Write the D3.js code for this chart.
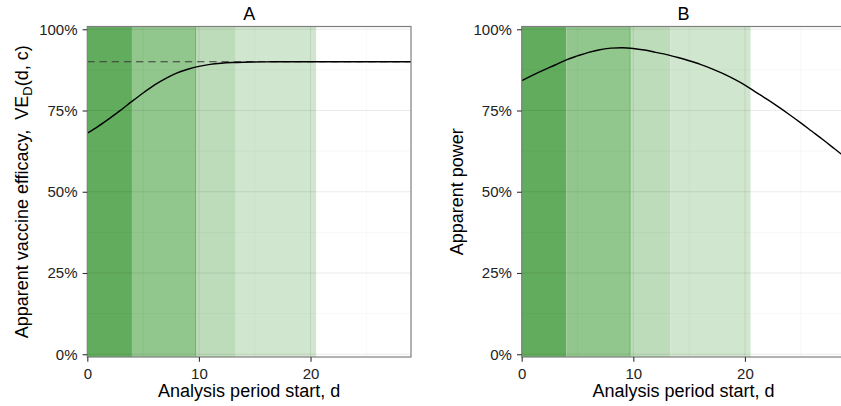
<!DOCTYPE html>
<html>
<head>
<meta charset="utf-8">
<script src="https://cdn.jsdelivr.net/npm/d3@7"></script>
<style>
  body { margin: 0; background: #fff; }
  svg { display: block; }
  text { font-family: "Liberation Sans", Arial, Helvetica, sans-serif; }
</style>
</head>
<body>
<svg id="chart" width="841" height="406"></svg>
<script>
// Analysis period start, d (days)
const days = [0, 1, 2, 3, 4, 5, 6, 7, 8, 9, 10, 11, 12, 13, 14, 15, 16, 17, 18, 19,
              20, 21, 22, 23, 24, 25, 26, 27, 28, 29];

// Panel A: apparent vaccine efficacy VE_D(d, c)
const efficacy = [0.680, 0.702, 0.726, 0.751, 0.778, 0.804, 0.828, 0.848, 0.865, 0.877,
                  0.886, 0.892, 0.8955, 0.8975, 0.8987, 0.8994, 0.8997, 0.8999, 0.900, 0.900,
                  0.900, 0.900, 0.900, 0.900, 0.900, 0.900, 0.900, 0.900, 0.900, 0.900];

// Panel B: apparent power
const power = [0.842, 0.859, 0.875, 0.890, 0.906, 0.918, 0.929, 0.937, 0.942, 0.943,
               0.941, 0.936, 0.929, 0.922, 0.913, 0.903, 0.892, 0.879, 0.864, 0.847,
               0.828, 0.806, 0.784, 0.761, 0.737, 0.712, 0.686, 0.660, 0.633, 0.606];

// True efficacy (dashed reference in panel A)
const trueEfficacy = 0.90;

// Shaded period boundaries (days)
const bandEdges = [0, 4, 9.7, 13.3, 20.5];

// Axis ticks
const xTicks = [0, 10, 20];
const xMinor = [5, 15, 25];
const yTicks = [0, 0.25, 0.5, 0.75, 1];
const yMinor = [0.125, 0.375, 0.625, 0.875];

const panelTitles = ["A", "B"];
const xTitle = "Analysis period start, d";

// ---- styling ----
const bandFills = ["#62AC5E", "#91C68C", "#BDDCBA", "#D1E6CF"];
const layout = { top: 26.5, bottom: 357, width: 323.7, lefts: [87.3, 521.7] };
const yExpand = 0.0085;

const svg = d3.select("#chart");
const pct = d3.format(".0%");

const y = d3.scaleLinear()
  .domain([-yExpand, 1 + yExpand])
  .range([layout.bottom, layout.top]);

function drawPanel(i, values, yTitleFn, reference) {
  const left = layout.lefts[i];
  const x = d3.scaleLinear().domain([0, 29]).range([left, left + layout.width]);
  const g = svg.append("g");

  const clipId = "clip" + i;
  svg.append("clipPath").attr("id", clipId)
    .append("rect")
    .attr("x", left).attr("y", layout.top)
    .attr("width", layout.width).attr("height", layout.bottom - layout.top);

  const plot = g.append("g").attr("clip-path", `url(#${clipId})`);

  // shaded periods
  plot.selectAll("rect.band")
    .data(d3.pairs(bandEdges))
    .join("rect")
    .attr("class", "band")
    .attr("x", d => x(d[0]))
    .attr("width", d => x(d[1]) - x(d[0]))
    .attr("y", layout.top)
    .attr("height", layout.bottom - layout.top)
    .attr("fill", (d, k) => bandFills[k]);

  // grid lines
  const grid = plot.append("g");
  grid.selectAll("line.ym").data(yMinor).join("line")
    .attr("x1", left).attr("x2", left + layout.width)
    .attr("y1", d => y(d)).attr("y2", d => y(d))
    .attr("stroke", "rgba(0,0,0,0.04)").attr("stroke-width", 0.8);
  grid.selectAll("line.xm").data(xMinor).join("line")
    .attr("y1", layout.top).attr("y2", layout.bottom)
    .attr("x1", d => x(d)).attr("x2", d => x(d))
    .attr("stroke", "rgba(0,0,0,0.04)").attr("stroke-width", 0.8);
  grid.selectAll("line.yM").data(yTicks).join("line")
    .attr("x1", left).attr("x2", left + layout.width)
    .attr("y1", d => y(d)).attr("y2", d => y(d))
    .attr("stroke", "rgba(0,0,0,0.08)").attr("stroke-width", 1.1);
  grid.selectAll("line.xM").data(xTicks).join("line")
    .attr("y1", layout.top).attr("y2", layout.bottom)
    .attr("x1", d => x(d)).attr("x2", d => x(d))
    .attr("stroke", "rgba(0,0,0,0.08)").attr("stroke-width", 1.1);

  // edge of the second period
  plot.append("line")
    .attr("x1", x(bandEdges[2])).attr("x2", x(bandEdges[2]))
    .attr("y1", layout.top).attr("y2", layout.bottom)
    .attr("stroke", "#6CB468").attr("stroke-width", 1);

  if (reference != null) {
    plot.append("line")
      .attr("x1", x(0)).attr("x2", x(29))
      .attr("y1", y(reference)).attr("y2", y(reference))
      .attr("stroke", "#3a3a3a").attr("stroke-width", 1.2)
      .attr("stroke-dasharray", "7.3,4.9");
  }

  const line = d3.line()
    .x((d, k) => x(days[k]))
    .y(d => y(d))
    .curve(d3.curveMonotoneX);
  plot.append("path")
    .datum(values)
    .attr("d", line)
    .attr("fill", "none")
    .attr("stroke", "#000")
    .attr("stroke-width", 1.4);

  // panel border
  g.append("rect")
    .attr("x", left).attr("y", layout.top)
    .attr("width", layout.width).attr("height", layout.bottom - layout.top)
    .attr("fill", "none").attr("stroke", "#7f7f7f").attr("stroke-width", 1.2);

  // axes
  const ax = g.append("g")
    .attr("transform", `translate(0,${layout.bottom})`)
    .call(d3.axisBottom(x).tickValues(xTicks).tickSize(4.7).tickPadding(6.6));
  const ay = g.append("g")
    .attr("transform", `translate(${left},0)`)
    .call(d3.axisLeft(y).tickValues(yTicks).tickFormat(pct).tickSize(4.7).tickPadding(5.1));
  [ax, ay].forEach(a => {
    a.attr("font-family", null).attr("font-size", null);
    a.select(".domain").remove();
    a.selectAll(".tick line").attr("stroke", "#333").attr("stroke-width", 1.1);
    a.selectAll(".tick text").attr("fill", "#222").style("font-size", "15px");
  });

  // panel title
  g.append("text")
    .attr("x", left + layout.width / 2).attr("y", 20)
    .attr("text-anchor", "middle")
    .style("font-size", "18px").attr("fill", "#000")
    .text(panelTitles[i]);

  // x axis title
  g.append("text")
    .attr("x", left + layout.width / 2).attr("y", 397)
    .attr("text-anchor", "middle")
    .style("font-size", "18px").attr("fill", "#000")
    .text(xTitle);

  // y axis title
  const yt = g.append("text")
    .attr("transform", `translate(${left - 59},${(layout.top + layout.bottom) / 2}) rotate(-90)`)
    .attr("text-anchor", "middle")
    .style("font-size", "18px").attr("fill", "#000");
  yTitleFn(yt);
}

drawPanel(0, efficacy, t => {
  t.append("tspan").text("Apparent vaccine efficacy,\u00a0\u00a0VE");
  t.append("tspan").attr("dy", 4).style("font-size", "13px").text("D");
  t.append("tspan").attr("dy", -4).text("(d, c)");
}, trueEfficacy);

drawPanel(1, power, t => {
  t.text("Apparent power");
}, null);
</script>
</body>
</html>
